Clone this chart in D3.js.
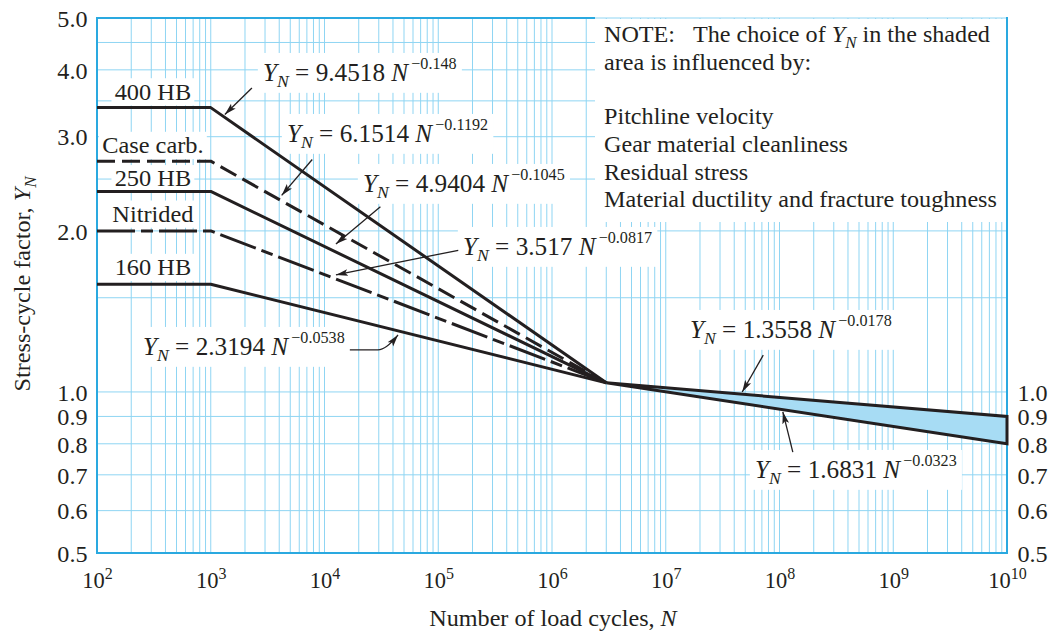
<!DOCTYPE html>
<html><head><meta charset="utf-8">
<script src="https://cdn.jsdelivr.net/npm/d3@7"></script>
<style>
html,body{margin:0;padding:0;background:#fff;}
svg{display:block;}
text{font-family:"Liberation Serif","Times New Roman",serif;fill:#231f20;white-space:pre;}
</style></head><body>
<svg id="chart" width="1053" height="631"></svg>
<script>
// ---------------- data ----------------
const materials   = ["400 HB", "Case carb.", "250 HB", "Nitrided", "160 HB"];
const plateauN    = [1e2, 1e3];
const plateauY    = [3.40, 2.70, 2.37, 2.00, 1.59];
const kneeN       = 3e6;
const kneeY       = 1.04;
const endN        = 1e10;
const upperEndY   = 0.90;
const lowerEndY   = 0.80;
const eqCoef      = ["9.4518", "6.1514", "4.9404", "3.517", "2.3194", "1.3558", "1.6831"];
const eqExp       = ["\u22120.148", "\u22120.1192", "\u22120.1045", "\u22120.0817", "\u22120.0538", "\u22120.0178", "\u22120.0323"];
const xTickExps   = [2, 3, 4, 5, 6, 7, 8, 9, 10];
const yTicksLeft  = [5.0, 4.0, 3.0, 2.0, 1.0, 0.9, 0.8, 0.7, 0.6, 0.5];
const yTicksRight = [1.0, 0.9, 0.8, 0.7, 0.6, 0.5];
const yGrid       = [0.5, 0.6, 0.7, 0.8, 0.9, 1.0, 1.5, 2.0, 2.5, 3.0, 3.5, 4.0, 4.5, 5.0];
const noteLines   = ["Pitchline velocity", "Gear material cleanliness", "Residual stress", "Material ductility and fracture toughness"];
// annotation arrows (tail, head) in data coordinates
const arrows = [
  [[2.3e3, 3.70], [1.33e3, 3.30]],
  [[7.8e3, 2.72], [4.2e3, 2.33]],
  [[3.1e4, 2.22], [1.26e4, 1.89]],
  [[1.5e5, 1.84], [1.26e4, 1.655]],
  [[7.2e7, 1.172], [4.7e7, 1.0]],
  [[1.31e8, 0.772], [1.07e8, 0.918]]
];
const hookArrow = [[1.67e4, 1.198], [2.95e4, 1.198], [4.43e4, 1.278]];

// ---------------- layout ----------------
const W = 1053, H = 631;
const L = 97, R = 1007, T = 18, B = 553;
const GRID = "#8fd5f3", BORDER = "#2aa9e0", INK = "#231f20", FILL = "#a7dcf4";
const dashes = [null, "18,7", null, "38,6,12,6", null];
const eqPos = [[263, 81], [287, 142], [363, 192], [463, 255], [143, 355], [690, 338], [755, 478]];
const matBaseOffset = [8, 8, 5, 9, 9];

const svg = d3.select("#chart");
const x = d3.scaleLog().domain([1e2, 1e10]).range([L, R]);
const y = d3.scaleLog().domain([0.5, 5]).range([B, T]);

const defs = svg.append("defs");
defs.append("marker").attr("id", "ah")
  .attr("viewBox", "0 0 12 8").attr("refX", 12).attr("refY", 4)
  .attr("markerWidth", 12).attr("markerHeight", 8)
  .attr("markerUnits", "userSpaceOnUse").attr("orient", "auto")
  .append("path").attr("d", "M0,0.6 L12,4 L0,7.4 L2.5,4 Z").attr("fill", INK);

// rich text helper
function rich(parent, px, py, parts, o = {}) {
  const size = o.size || 23, sx = o.sx || 1.05, rot = o.rotate || 0;
  const g = parent.append("g").attr("transform", `translate(${px},${py}) rotate(${rot}) scale(${sx},1)`);
  const t = g.append("text").attr("font-size", size).attr("text-anchor", o.anchor || "start");
  let shift = 0;
  parts.forEach(p => {
    const ts = t.append("tspan").text(p.t);
    let target = 0, fs = null;
    if (p.sub) { target = size * 0.24; fs = size * 0.7; }
    if (p.sup) { target = -size * 0.5; fs = size * 0.64; ts.attr("dx", 3); }
    if (p.it) ts.attr("font-style", "italic");
    if (fs) ts.attr("font-size", fs);
    if (target !== shift) { ts.attr("dy", target - shift); shift = target; }
  });
  if (o.box) {
    const b = t.node().getBBox();
    const pad = o.pad || [4, 2];
    g.insert("rect", "text").attr("x", b.x - pad[0]).attr("y", b.y - pad[1])
      .attr("width", b.width + 2 * pad[0]).attr("height", b.height + 2 * pad[1]).attr("fill", "#fff");
  }
  return g;
}

// ---------------- grid ----------------
const gridG = svg.append("g");
const vN = [];
for (let k = 2; k <= 9; k++) for (let m = 1; m <= 9; m++) vN.push(m * Math.pow(10, k));
vN.push(1e10);
gridG.selectAll("line.v").data(vN).join("line").attr("class", "v")
  .attr("x1", d => x(d)).attr("x2", d => x(d)).attr("y1", T).attr("y2", B)
  .attr("stroke", GRID).attr("stroke-width", 1);
gridG.selectAll("line.h").data(yGrid).join("line").attr("class", "h")
  .attr("x1", L).attr("x2", R).attr("y1", d => y(d)).attr("y2", d => y(d))
  .attr("stroke", GRID).attr("stroke-width", 1);

// ---------------- labels with white boxes ----------------
const labG = svg.append("g");
materials.forEach((m, i) => {
  rich(labG, x(310), y(plateauY[i]) - matBaseOffset[i], [{t: m}], {anchor: "middle", box: true, size: 23, sx: 1.06, pad: [3, 1]});
});
eqCoef.forEach((c, i) => {
  rich(labG, eqPos[i][0], eqPos[i][1], [
    {t: "Y", it: true}, {t: "N", it: true, sub: true}, {t: " = " + c + " "},
    {t: "N", it: true}, {t: eqExp[i], sup: true}
  ], {size: 24.5, sx: 1.03, box: true, pad: [5, 2]});
});

// NOTE box
labG.append("rect").attr("x", 595).attr("y", T + 1).attr("width", R - 595 - 1).attr("height", 222 - T - 1).attr("fill", "#fff");
rich(labG, 604, 42, [{t: "NOTE:"}]);
rich(labG, 693, 42, [{t: "The choice of "}, {t: "Y", it: true}, {t: "N", it: true, sub: true}, {t: " in the shaded"}]);
rich(labG, 604, 70, [{t: "area is influenced by:"}]);
const noteBase = [124, 152, 180, 207];
noteLines.forEach((s, i) => rich(labG, 604, noteBase[i], [{t: s}]));

// ---------------- border ----------------
const bG = svg.append("g").attr("stroke", BORDER).attr("stroke-width", 2).attr("fill", "none");
bG.append("line").attr("x1", L).attr("x2", L).attr("y1", T - 1).attr("y2", B + 1);
bG.append("line").attr("x1", L).attr("x2", R + 1).attr("y1", B).attr("y2", B);
bG.append("line").attr("x1", R).attr("x2", R).attr("y1", T - 1).attr("y2", B + 1);
bG.append("line").attr("x1", L - 1).attr("x2", 595).attr("y1", T).attr("y2", T);

// ---------------- curves ----------------
const line = d3.line().x(d => x(d[0])).y(d => y(d[1]));
const curveG = svg.append("g");
// shaded band
const band = [[kneeN, kneeY, kneeY], [endN, upperEndY, lowerEndY]];
curveG.append("path").datum(band)
  .attr("d", d3.area().x(d => x(d[0])).y0(d => y(d[2])).y1(d => y(d[1])))
  .attr("fill", FILL).attr("stroke", INK).attr("stroke-width", 3).attr("stroke-linejoin", "miter");
materials.forEach((m, i) => {
  const pts = [[plateauN[0], plateauY[i]], [plateauN[1], plateauY[i]], [kneeN, kneeY]];
  const p = curveG.append("path").datum(pts).attr("d", line)
    .attr("fill", "none").attr("stroke", INK).attr("stroke-width", 3).attr("stroke-linejoin", "round");
  if (dashes[i]) p.attr("stroke-dasharray", dashes[i]);
});

// ---------------- arrows ----------------
const arG = svg.append("g").attr("stroke", INK).attr("stroke-width", 1.3).attr("fill", "none");
arrows.forEach(a => {
  arG.append("line").attr("x1", x(a[0][0])).attr("y1", y(a[0][1]))
    .attr("x2", x(a[1][0])).attr("y2", y(a[1][1])).attr("marker-end", "url(#ah)");
});
{
  const p = d3.path();
  const p0 = [x(hookArrow[0][0]), y(hookArrow[0][1])];
  const p1 = [x(hookArrow[1][0]), y(hookArrow[1][1])];
  const p2 = [x(hookArrow[2][0]), y(hookArrow[2][1])];
  p.moveTo(p0[0], p0[1]); p.lineTo(p1[0], p1[1]);
  p.quadraticCurveTo(p1[0] + 8, p1[1], p2[0], p2[1]);
  arG.append("path").attr("d", p.toString()).attr("marker-end", "url(#ah)");
}

// ---------------- axes ----------------
const fmt = d3.format(".1f");
const axL = svg.append("g").attr("transform", `translate(${L},0)`)
  .call(d3.axisLeft(y).tickValues(yTicksLeft).tickSize(0).tickPadding(9).tickFormat(fmt));
const axR = svg.append("g").attr("transform", `translate(${R},0)`)
  .call(d3.axisRight(y).tickValues(yTicksRight).tickSize(0).tickPadding(10).tickFormat(fmt));
[axL, axR].forEach(ax => {
  ax.select(".domain").remove();
  ax.selectAll("text").attr("font-size", 23).attr("dy", "0.36em").attr("transform", "scale(1.05,1)");
});
const axB = svg.append("g").attr("transform", `translate(0,${B})`)
  .call(d3.axisBottom(x).tickValues(xTickExps.map(e => Math.pow(10, e))).tickSize(0).tickFormat(""));
axB.select(".domain").remove();
axB.selectAll(".tick text").each(function(d, i) {
  const t = d3.select(this).attr("y", 35).attr("dy", 0).attr("font-size", 22.5).attr("text-anchor", "middle");
  t.text("");
  t.append("tspan").text("10");
  t.append("tspan").attr("font-size", 16).attr("dy", -9).text(String(xTickExps[i]));
});

// axis titles
rich(svg, (L + R) / 2 + 1, 626, [{t: "Number of load cycles, "}, {t: "N", it: true}], {anchor: "middle"});
rich(svg, 30, 284, [{t: "Stress-cycle factor, "}, {t: "Y", it: true}, {t: "N", it: true, sub: true}], {anchor: "middle", rotate: -90});
</script>
</body></html>
